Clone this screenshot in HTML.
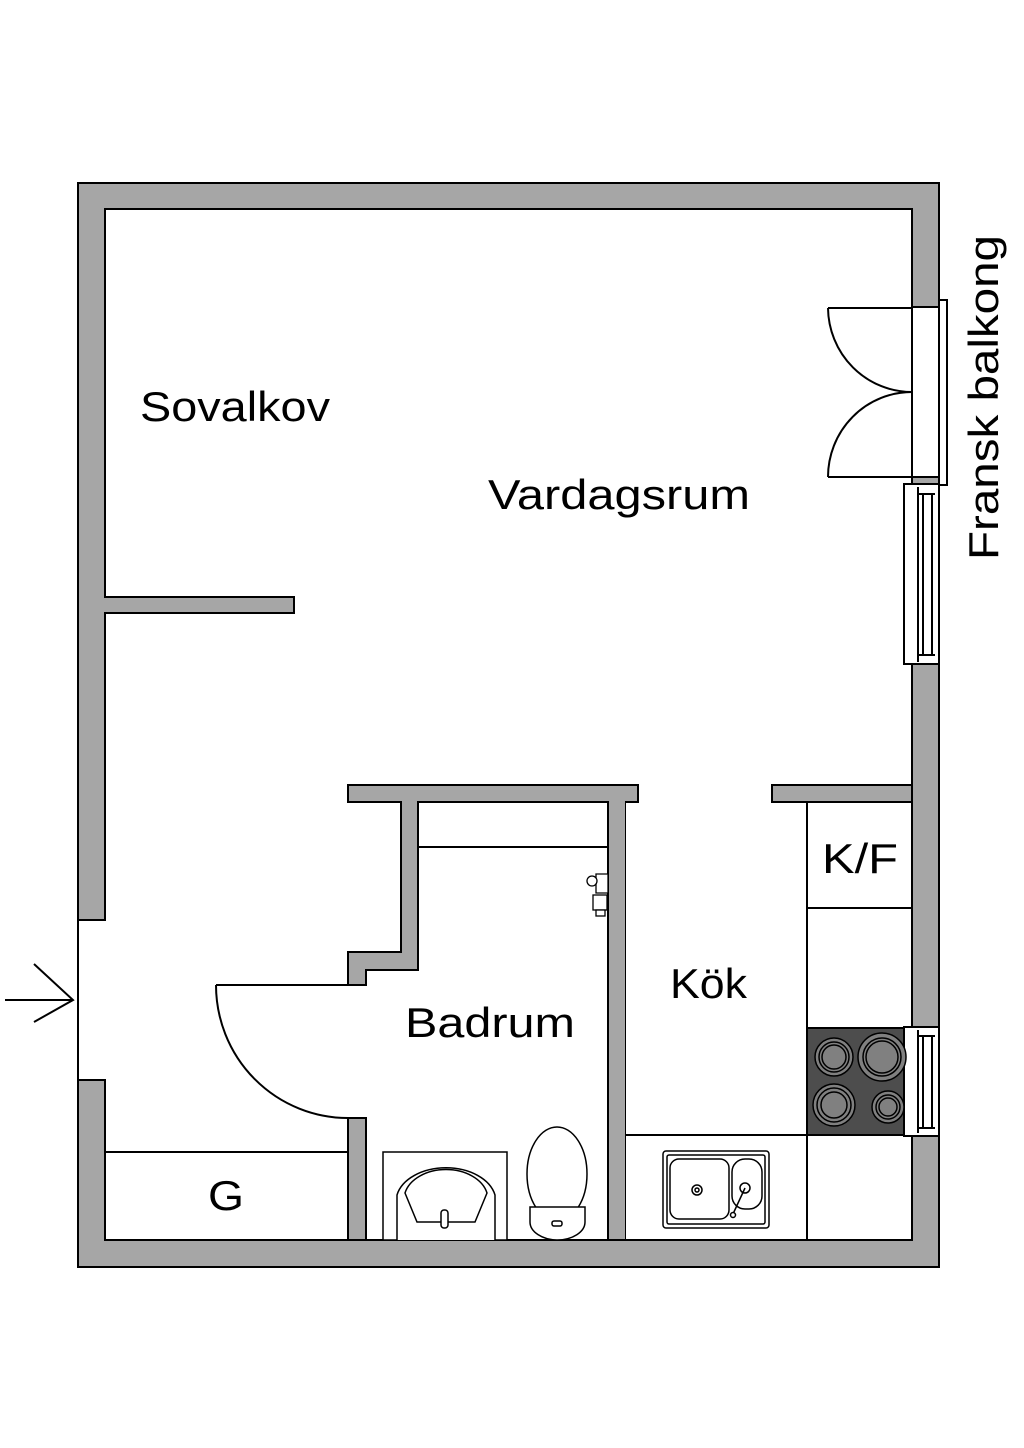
<!DOCTYPE html>
<html><head><meta charset="utf-8"><style>html,body{margin:0;padding:0;background:#fff}svg{display:block}</style></head>
<body>
<svg width="1024" height="1448" viewBox="0 0 1024 1448" xmlns="http://www.w3.org/2000/svg" font-family="Liberation Sans, sans-serif">
<g fill="#a6a6a6" stroke="#000" stroke-width="2">
<!-- top wall -->
<rect x="78" y="183" width="861" height="26"/>
<!-- left wall upper -->
<rect x="78" y="183" width="27" height="737"/>
<!-- left wall lower -->
<rect x="78" y="1080" width="27" height="187"/>
<!-- bottom wall -->
<rect x="78" y="1240" width="861" height="27"/>
<!-- right wall segments -->
<rect x="912" y="183" width="27" height="124"/>
<rect x="912" y="477" width="27" height="10"/>
<rect x="912" y="662" width="27" height="366"/>
<rect x="912" y="1135" width="27" height="132"/>
<!-- sovalkov partition -->
<rect x="105" y="597" width="189" height="16"/>
<!-- bathroom walls -->
<path d="M348 785 H638 V802 H625 V1240 H608 V802 H418 V970 H366 V985 H348 V952 H401 V802 H348 Z"/>
<rect x="348" y="1118" width="18" height="122"/>
<!-- kitchen wall -->
<rect x="772" y="785" width="140" height="17"/>
</g>
<!-- cover inner fill joins -->
<g fill="#a6a6a6">
<rect x="79" y="184" width="859" height="24"/>
<rect x="79" y="184" width="25" height="735"/>
<rect x="79" y="1081" width="25" height="185"/>
<rect x="79" y="1241" width="859" height="25"/>
<rect x="913" y="184" width="25" height="122"/>
<rect x="913" y="663" width="25" height="364"/>
<rect x="913" y="1136" width="25" height="130"/>
<rect x="80" y="598" width="213" height="14"/>
<rect x="773" y="786" width="164" height="15"/>
<rect x="349" y="1119" width="16" height="120"/>
<rect x="609" y="786" width="16" height="453"/>
</g>
<g fill="none" stroke="#000" stroke-width="2">
<path d="M105 209 H912 M105 209 V597 M105 613 V920 M105 1080 V1240 H348 M366 1240 H608 M625 1240 H912 V1135 M912 1028 V662 M912 487 V209"/>
<path d="M105 613 H294 V597 H105"/>
<path d="M78 920 V1080"/>
<!-- entrance arrow -->
<path d="M5 1000 H73 M34 964 L73 1000 L34 1022"/>
<!-- bath door -->
<path d="M216 985 H348 M216 985 A132 133 0 0 0 348 1118"/>
<!-- G closet -->
<path d="M105 1152 H348"/>
<!-- shower line -->
<path d="M418 847 H608"/>
<!-- balcony door -->
<rect x="939" y="300" width="8" height="185" fill="#fff"/>
<path d="M912 308 H828 M912 477 H828"/>
<path d="M828 308 A84 85 0 0 0 912 392 M828 477 A84 85 0 0 1 912 392"/>
<!-- window 1 -->
<rect x="904" y="484" width="35" height="180" fill="#fff"/>
<path d="M918 487 V662 M923 494 V655 M932 494 V655 M918 494 H935 M918 655 H935"/>
<!-- kitchen counters -->
<rect x="807" y="802" width="105" height="106" fill="#fff"/>
<path d="M807 908 V1240 M807 1028 H912 M625 1135 H807 M807 1135 H912"/>
<!-- window 2 -->
<rect x="904" y="1027" width="35" height="109" fill="#fff"/>
<path d="M918 1030 V1133 M923 1036 V1128 M932 1036 V1128 M918 1036 H935 M918 1128 H935"/>
</g>
<!-- stove -->
<rect x="807" y="1028" width="97" height="107" fill="#4d4d4d" stroke="#000" stroke-width="2"/>
<g fill="#808080" stroke="#000" stroke-width="1.5">
<circle cx="834" cy="1057" r="19"/><circle cx="834" cy="1057" r="15" fill="none"/><circle cx="834" cy="1057" r="12"/>
<circle cx="882" cy="1057" r="24"/><circle cx="882" cy="1057" r="19" fill="none"/><circle cx="882" cy="1057" r="16"/>
<circle cx="834" cy="1105" r="21"/><circle cx="834" cy="1105" r="17" fill="none"/><circle cx="834" cy="1105" r="13"/>
<circle cx="888" cy="1107" r="16"/><circle cx="888" cy="1107" r="12" fill="none"/><circle cx="888" cy="1107" r="9"/>
</g>
<!-- kitchen sink -->
<g fill="#fff" stroke="#000" stroke-width="1.5">
<rect x="663" y="1151" width="106" height="77" rx="3"/>
<rect x="667" y="1155" width="98" height="69" rx="2"/>
<rect x="670" y="1159" width="59" height="60" rx="9"/>
<rect x="732" y="1159" width="30" height="50" rx="13"/>
<circle cx="697" cy="1190" r="5"/><circle cx="697" cy="1190" r="2"/>
<circle cx="745" cy="1188" r="5"/>
<path d="M745 1188 L733 1214"/>
<circle cx="733" cy="1215" r="2.5"/>
</g>
<!-- bathroom sink -->
<g fill="#fff" stroke="#000" stroke-width="1.5">
<rect x="383" y="1152" width="124" height="88"/>
<path d="M397 1240 V1195 A50 34 0 0 1 495 1195 V1240"/>
<path d="M405 1193 A42 30 0 0 1 487 1193 L475 1222 H417 Z"/>
<rect x="441" y="1210" width="7" height="18" rx="3"/>
<!-- toilet -->
<ellipse cx="557" cy="1174" rx="30" ry="47"/>
<path d="M530 1207 H585 V1222 A28 18 0 0 1 557 1240 A28 18 0 0 1 530 1222 Z"/>
<rect x="552" y="1221" width="10" height="5" rx="2"/>
</g>
<!-- shower fixture -->
<g fill="#fff" stroke="#000" stroke-width="1.3">
<path d="M596 874 H608 V893 H596 Z"/>
<circle cx="592" cy="881" r="5"/>
<rect x="593" y="895" width="14" height="15"/>
<rect x="596" y="910" width="9" height="6"/>
</g>
<!-- labels -->
<g fill="#000" font-size="42">
<text x="140" y="421" textLength="190" lengthAdjust="spacingAndGlyphs">Sovalkov</text>
<text x="488" y="509" textLength="262" lengthAdjust="spacingAndGlyphs">Vardagsrum</text>
<text x="405" y="1037" textLength="170" lengthAdjust="spacingAndGlyphs">Badrum</text>
<text x="670" y="998" textLength="77" lengthAdjust="spacingAndGlyphs">Kök</text>
<text x="822" y="873" textLength="76" lengthAdjust="spacingAndGlyphs">K/F</text>
<text x="208" y="1210" textLength="36" lengthAdjust="spacingAndGlyphs">G</text>
<text transform="translate(998 560) rotate(-90)" textLength="325" lengthAdjust="spacingAndGlyphs">Fransk balkong</text>
</g>
</svg>
</body></html>
